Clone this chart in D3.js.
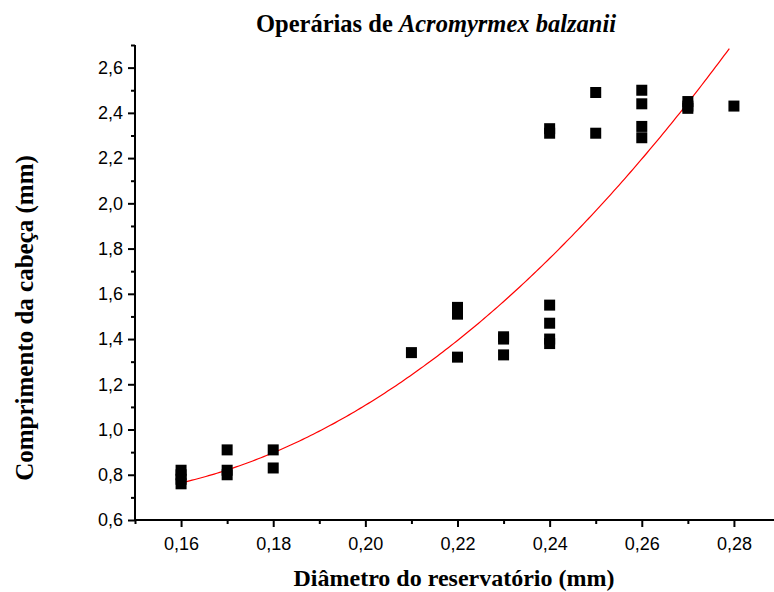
<!DOCTYPE html>
<html><head><meta charset="utf-8">
<script src="https://cdn.jsdelivr.net/npm/d3@7"></script>
<style>body{margin:0;background:#fff}svg{display:block}</style>
</head><body>
<svg id="c" width="774" height="592"></svg>
<script>
const diametro = [0.16,0.16,0.16,0.16,0.17,0.17,0.17,0.18,0.18,0.21,0.22,0.22,0.22,0.23,0.23,0.23,
  0.24,0.24,0.24,0.24,0.24,0.24,0.25,0.25,0.26,0.26,0.26,0.26,0.27,0.27,0.27,0.28];
const comprimento = [0.76,0.78,0.80,0.82,0.91,0.82,0.80,0.91,0.83,1.34,1.54,1.51,1.32,1.41,1.40,1.33,
  1.55,1.47,1.40,1.38,2.33,2.31,2.49,2.31,2.50,2.44,2.34,2.29,2.45,2.43,2.42,2.43];
const xTicks = [0.16,0.18,0.20,0.22,0.24,0.26,0.28];
const yTicks = [0.6,0.8,1.0,1.2,1.4,1.6,1.8,2.0,2.2,2.4,2.6];
// fitted curve: y = c0 + c1*(x-x0) + c2*(x-x0)^2
const fitCoef = [0.764, 4.76, 95.6];
const fitX0 = 0.16;
const fitRange = [0.16, 0.2796];

const svg = d3.select("#c");
const x = d3.scaleLinear().domain([0.15, 0.29]).range([135, 780]);
const y = d3.scaleLinear().domain([0.6, 2.7]).range([520, 45]);
const fmt = d => d3.format(".2f")(d).replace(".", ",");
const fmtY = d => d3.format(".1f")(d).replace(".", ",");

// fit line
const fitPts = d3.range(0, 201).map(i => {
  const xv = fitRange[0] + (fitRange[1]-fitRange[0]) * i/200;
  const t = xv - fitX0;
  return [xv, fitCoef[0] + fitCoef[1]*t + fitCoef[2]*t*t];
}).filter(p => p[1] <= 2.7);
svg.append("path").datum(fitPts)
  .attr("fill","none").attr("stroke","#ff0000").attr("stroke-width",1.2)
  .attr("d", d3.line().x(d=>x(d[0])).y(d=>y(d[1])));

// points
const s = 11;
svg.append("g").selectAll("rect").data(diametro.map((d,i)=>[d, comprimento[i]])).join("rect")
  .attr("x", d => x(d[0]) - s/2).attr("y", d => y(d[1]) - s/2)
  .attr("width", s).attr("height", s).attr("fill", "#000");

// axes
const tickFont = "Liberation Sans, Arial, sans-serif";
const xMinor = d3.range(0.15, 0.2901, 0.01).map(v=>+v.toFixed(2)).filter(v => !xTicks.includes(v));
const yMinor = [0.7,0.9,1.1,1.3,1.5,1.7,1.9,2.1,2.3,2.5,2.7];
const gx = svg.append("g").attr("transform","translate(0,520)");
gx.call(d3.axisBottom(x).tickValues(xTicks).tickFormat(fmt).tickSize(7).tickPadding(10));
gx.append("g").call(d3.axisBottom(x).tickValues(xMinor).tickFormat("").tickSize(4))
  .select(".domain").remove();
const gy = svg.append("g").attr("transform","translate(135,0)");
gy.call(d3.axisLeft(y).tickValues(yTicks).tickFormat(fmtY).tickSize(7).tickPadding(5));
gy.append("g").call(d3.axisLeft(y).tickValues(yMinor).tickFormat("").tickSize(4))
  .select(".domain").remove();
svg.selectAll(".domain").attr("stroke-width",2);
svg.selectAll(".tick line").attr("stroke-width",2);
svg.selectAll(".tick text").attr("font-family",tickFont).attr("font-size",18).attr("fill","#000");
gx.select(".domain").attr("d","M135,0H774");
gy.select(".domain").attr("d","M0,520V45");

// title & labels
const serif = "Liberation Serif, Times New Roman, serif";
const title = svg.append("text").attr("x",436).attr("y",32).attr("text-anchor","middle")
  .attr("font-family",serif).attr("font-weight","bold").attr("font-size",24.5);
title.append("tspan").text("Operárias de ");
title.append("tspan").attr("font-style","italic").text("Acromyrmex balzanii");
svg.append("text").attr("x",454).attr("y",586).attr("text-anchor","middle")
  .attr("font-family",serif).attr("font-weight","bold").attr("font-size",24)
  .text("Diâmetro do reservatório (mm)");
svg.append("text").attr("transform","translate(33,318) rotate(-90)").attr("text-anchor","middle")
  .attr("font-family",serif).attr("font-weight","bold").attr("font-size",25)
  .text("Comprimento da cabeça (mm)");
</script>
</body></html>
